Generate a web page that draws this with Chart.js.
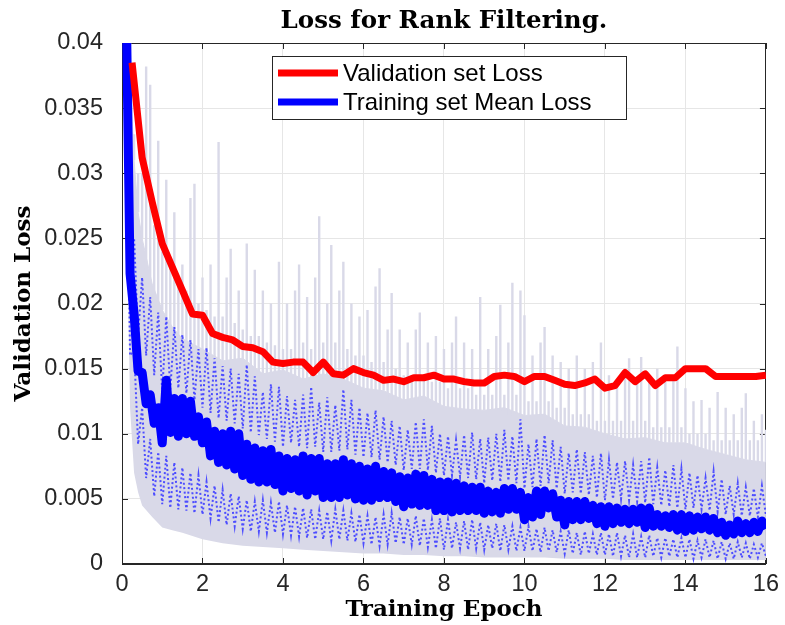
<!DOCTYPE html>
<html>
<head>
<meta charset="utf-8">
<script src="https://cdn.jsdelivr.net/npm/chart.js@4.4.1/dist/chart.umd.min.js"></script>
<style>
  html, body { margin: 0; padding: 0; background: #fff; }
  canvas { display: block; }
</style>
</head>
<body>
<canvas id="lossChart" width="785" height="625"></canvas>
<script>

// validation loss, every quarter epoch
const valEpochs = [
  0.25, 0.5, 0.75, 1, 1.25, 1.5, 1.75, 2, 2.25, 2.5, 2.75, 3, 3.25, 3.5, 3.75, 4,
  4.25, 4.5, 4.75, 5, 5.25, 5.5, 5.75, 6, 6.25, 6.5, 6.75, 7, 7.25, 7.5, 7.75, 8,
  8.25, 8.5, 8.75, 9, 9.25, 9.5, 9.75, 10, 10.25, 10.5, 10.75, 11, 11.25, 11.5, 11.75, 12,
  12.25, 12.5, 12.75, 13, 13.25, 13.5, 13.75, 14, 14.25, 14.5, 14.75, 15, 15.25, 15.5, 15.75, 16
];
const valLoss = [
  38.5, 31.2, 27.8, 24.6, 22.8, 21.0, 19.2, 19.1, 17.7, 17.4, 17.2, 16.7, 16.6, 16.3, 15.5, 15.4,
  15.5, 15.5, 14.7, 15.5, 14.6, 14.5, 15.0, 14.7, 14.5, 14.1, 14.2, 14.0, 14.3, 14.3, 14.5, 14.2,
  14.2, 14.0, 13.9, 13.9, 14.4, 14.5, 14.4, 14.0, 14.4, 14.4, 14.1, 13.8, 13.7, 13.9, 14.2, 13.5,
  13.7, 14.7, 14.0, 14.6, 13.7, 14.3, 14.3, 15.0, 15.0, 15.0, 14.4, 14.4, 14.4, 14.4, 14.4, 14.5
];

// training curves, one value per 0.1 epoch (0.1 ... 16.0), one row per epoch
const trainStep = 0.1;
const meanLoss = [
  44, 22.3, 19.2, 14.8, 14.7, 12.3, 13.0, 10.8, 12.0, 9.3,
  14.1, 10.1, 12.7, 9.8, 12.7, 10.0, 12.5, 9.8, 11.3, 9.3,
  10.9, 8.3, 10.2, 7.8, 10.0, 7.6, 10.2, 7.3, 10.0, 6.8,
  9.2, 6.5, 8.9, 6.3, 8.7, 6.3, 8.8, 6.1, 8.3, 5.6,
  8.1, 5.8, 8.0, 5.6, 8.3, 5.3, 8.1, 5.6, 8.1, 5.1,
  7.7, 5.1, 7.7, 5.1, 8.0, 5.3, 7.7, 5.0, 7.5, 4.9,
  7.3, 4.9, 7.5, 5.1, 7.1, 5.1, 7.0, 4.8, 6.7, 4.4,
  6.6, 4.6, 6.9, 4.5, 6.8, 4.5, 6.5, 4.1, 6.3, 4.1,
  6.3, 4.0, 6.2, 4.1, 6.0, 4.1, 5.9, 4.1, 5.9, 3.9,
  5.6, 4.0, 5.5, 3.9, 5.8, 4.2, 5.8, 4.2, 5.5, 3.4,
  5.1, 3.6, 5.6, 3.8, 5.6, 4.3, 5.4, 3.6, 4.9, 3.0,
  4.8, 3.4, 4.8, 3.4, 4.8, 3.5, 4.5, 3.1, 4.4, 2.9,
  4.4, 3.1, 4.3, 3.2, 4.2, 3.1, 4.2, 3.2, 4.3, 2.8,
  4.3, 2.9, 3.8, 2.9, 3.7, 2.8, 3.8, 2.6, 3.8, 2.5,
  3.7, 2.6, 3.6, 2.7, 3.6, 2.6, 3.5, 2.4, 3.2, 2.2,
  3.0, 2.3, 3.3, 2.4, 3.1, 2.4, 3.2, 2.5, 3.3, 2.7
];
const upperLoss = [
  40.5, 24, 25, 17.5, 22, 16, 20.5, 14.5, 19.3, 13.2,
  19, 13.4, 18.2, 13.5, 17.6, 13.1, 17.2, 12.6, 16.5, 12.0,
  16.6, 11.6, 15.8, 11.2, 15.2, 11.0, 15.0, 10.8, 14.6, 10.4,
  15.3, 10.1, 14.4, 9.9, 13.2, 9.6, 13.8, 9.4, 13.6, 9.0,
  12.9, 9.3, 12.6, 9.0, 13.0, 8.9, 13.6, 9.0, 12.4, 8.6,
  12.8, 8.6, 12.2, 8.7, 13.4, 8.8, 12.6, 8.4, 12.0, 8.2,
  11.6, 8.2, 11.8, 8.0, 11.3, 7.8, 11.0, 7.6, 10.6, 7.2,
  10.3, 7.3, 10.9, 7.3, 11.1, 7.2, 10.6, 7.0, 10.0, 6.8,
  9.8, 6.8, 9.5, 6.7, 9.9, 6.6, 10.1, 6.5, 9.6, 6.2,
  9.7, 6.4, 10.0, 6.3, 10.3, 6.4, 9.8, 6.2, 11.1, 5.8,
  9.2, 5.9, 9.6, 6.0, 9.9, 6.2, 9.5, 5.8, 9.0, 5.4,
  8.5, 5.5, 8.8, 5.4, 8.6, 5.3, 8.3, 5.1, 8.5, 4.9,
  8.0, 5.0, 7.8, 5.0, 7.9, 4.9, 7.6, 4.8, 7.9, 4.7,
  8.2, 4.6, 7.4, 4.5, 7.2, 4.4, 7.6, 4.3, 7.3, 4.2,
  7.0, 4.3, 6.8, 4.2, 6.6, 4.1, 7.1, 4.0, 6.5, 3.8,
  6.0, 3.8, 6.2, 3.7, 5.9, 3.7, 5.8, 3.6, 6.0, 3.7
];
const lowerLoss = [
  38, 16, 16.5, 9.2, 12, 6.6, 9.6, 5.2, 8.6, 4.6,
  8.3, 4.3, 7.8, 4.2, 7.4, 4.1, 7.0, 3.9, 6.8, 3.8,
  6.3, 3.5, 6.0, 3.2, 5.7, 3.0, 5.4, 2.9, 5.2, 2.7,
  4.9, 2.5, 4.8, 2.5, 4.9, 2.4, 4.7, 2.4, 4.8, 2.3,
  4.5, 2.2, 4.4, 2.1, 4.3, 2.0, 4.2, 1.9, 4.1, 1.9,
  4.0, 1.8, 4.2, 1.9, 4.1, 1.8, 3.9, 1.7, 3.8, 1.6,
  3.7, 1.5, 3.6, 1.4, 3.8, 1.5, 3.9, 1.6, 3.6, 1.5,
  3.5, 1.5, 3.7, 1.4, 3.5, 1.3, 3.4, 1.2, 3.5, 1.1,
  3.4, 1.2, 3.2, 1.2, 3.3, 1.1, 3.4, 1.2, 3.2, 1.1,
  3.0, 1.2, 3.1, 1.0, 3.0, 1.1, 2.9, 1.0, 2.8, 1.0,
  2.9, 1.0, 2.7, 0.9, 2.8, 1.0, 2.6, 0.9, 2.5, 0.8,
  2.6, 0.8, 2.4, 0.7, 2.5, 0.8, 2.3, 0.7, 2.4, 0.7,
  2.3, 0.6, 2.4, 0.6, 2.2, 0.5, 2.3, 0.5, 2.1, 0.5,
  2.2, 0.6, 2.0, 0.5, 2.0, 0.6, 1.9, 0.5, 2.0, 0.5,
  1.9, 0.4, 1.8, 0.5, 1.9, 0.5, 1.8, 0.4, 1.7, 0.4,
  1.6, 0.4, 1.7, 0.5, 1.6, 0.4, 1.5, 0.5, 1.6, 0.6
];
// raw per-batch loss: spike tops every 0.1 epoch
const rawPeaks = [
  45, 45, 33, 30, 30, 38.2, 36.8, 26, 32.5, 24,
  29.5, 23, 27, 22, 23, 21, 28.1, 29.2, 20, 22,
  19.5, 23, 19, 32.4, 19, 22, 24.2, 18.5, 21, 18,
  24.6, 17.5, 22.6, 17.5, 21, 17, 20, 16.8, 23.2, 16.5,
  20, 16.5, 21, 23.0, 17, 20.5, 16.5, 22, 26.7, 17,
  20, 24.5, 17, 21, 23.2, 16.5, 20, 16, 19, 16,
  19.5, 15.5, 21.3, 22.7, 15.5, 18, 20.8, 15, 18, 14.5,
  17, 14.5, 18, 19.3, 14.5, 17, 14, 17.5, 14, 16.5,
  13.5, 17, 19.0, 13.5, 17, 13.5, 16.5, 13, 20.5, 13,
  16.5, 13, 17.5, 19.9, 13, 17, 21.6, 13, 21.0, 19.1,
  12.5, 16, 12.5, 17, 18.2, 12.5, 16, 12, 15.5, 12,
  15, 11.5, 16, 11.5, 15, 11.5, 15.5, 11, 17.0, 11,
  14.5, 11, 14, 11, 15, 15.8, 11, 14, 15.9, 11,
  14.5, 10.5, 15, 10.5, 14, 10.5, 14.5, 16.7, 10.5, 13.5,
  10, 12.5, 10, 12.6, 10, 12, 9.5, 13.2, 9.5, 12,
  9.5, 11.5, 9.5, 12, 13.1, 9.5, 11, 9.5, 11.5, 10.3
];
// dense body of the raw loss: top and bottom edge
const rawEpochs = [
  0.1, 0.2, 0.3, 0.4, 0.5, 0.75, 1, 1.25, 1.5, 2, 2.5, 3, 3.5, 4, 4.5, 5, 5.5, 6, 6.5,
  7, 7.5, 8, 8.5, 9, 9.5, 10, 10.5, 11, 11.5, 12, 12.5, 13, 13.5, 14, 14.5, 15, 15.5, 16
];
const rawTop = [
  45, 38, 31, 27, 25, 21.5, 19.5, 18.2, 17.3, 16.5, 15.6, 15.8, 14.6, 14.9, 14.2, 14.6, 14.2, 13.5, 13.3,
  12.6, 12.9, 12.1, 11.9, 11.8, 12.0, 11.4, 11.5, 10.6, 10.5, 10.0, 9.6, 9.7, 9.3, 9.3, 8.8, 8.4, 8.0, 7.8
];
const rawBottom = [
  30, 12, 7, 5.5, 4.5, 3.6, 2.8, 2.6, 2.4, 1.9, 1.6, 1.4, 1.3, 1.2, 1.1, 1.0, 0.9, 0.8, 0.8,
  0.7, 0.7, 0.6, 0.6, 0.5, 0.5, 0.5, 0.5, 0.4, 0.4, 0.4, 0.3, 0.3, 0.3, 0.3, 0.3, 0.3, 0.3, 0.3
];

const trainEpochs = meanLoss.map((v, i) => +((i + 1) * trainStep).toFixed(1));
const pts = (xs, ys) => ys.map((v, i) => ({x: xs[i], y: v / 1000}));

// spikes start from the dense body so they don't hang below it
function bodyTopAt(e) {
  for (let j = 0; j < rawEpochs.length - 1; j++) {
    if (e <= rawEpochs[j + 1]) return Math.min(rawTop[j], rawTop[j + 1]);
  }
  return rawTop[rawTop.length - 1];
}
const spikePts = [];
rawPeaks.forEach((v, i) => {
  const e = trainEpochs[i];
  spikePts.push({x: e, y: bodyTopAt(e) / 1000}, {x: e, y: v / 1000}, {x: e, y: null});
});

const RAW = '#d9d9e8';
const SANS = '"Liberation Sans", Arial, sans-serif';
const SERIF = '"DejaVu Serif", serif';

const axesBox = {
  id: 'axesBox',
  beforeDatasetsDraw(chart) {
    const {ctx, chartArea: a, scales: {x, y}} = chart;
    ctx.save();
    ctx.strokeStyle = '#262626';
    ctx.lineWidth = 1;
    ctx.beginPath();
    x.ticks.forEach(t => {
      const px = Math.round(x.getPixelForValue(t.value)) + 0.5;
      ctx.moveTo(px, a.bottom); ctx.lineTo(px, a.bottom - 6);
      ctx.moveTo(px, a.top); ctx.lineTo(px, a.top + 6);
    });
    y.ticks.forEach(t => {
      const py = Math.round(y.getPixelForValue(t.value)) + 0.5;
      ctx.moveTo(a.left, py); ctx.lineTo(a.left + 6, py);
      ctx.moveTo(a.right, py); ctx.lineTo(a.right - 6, py);
    });
    ctx.stroke();
    ctx.strokeRect(Math.round(a.left) + 0.5, Math.round(a.top) + 0.5, Math.round(a.width) - 1, Math.round(a.height) - 1);
    ctx.restore();
  }
};

// title centred over the plot area, legend box inside it
const overlay = {
  id: 'overlay',
  afterDatasetsDraw(chart) {
    const {ctx, chartArea: a} = chart;
    ctx.save();
    ctx.fillStyle = '#000';
    ctx.font = 'bold 24.5px ' + SERIF;
    ctx.textAlign = 'center';
    ctx.textBaseline = 'alphabetic';
    ctx.fillText('Loss for Rank Filtering.', (a.left + a.right) / 2, 28);

    const x = Math.round(a.left) + 150, y = Math.round(a.top) + 13, w = 354, h = 63;
    ctx.textAlign = 'left';
    ctx.fillStyle = '#fff';
    ctx.fillRect(x, y, w, h);
    ctx.strokeStyle = '#262626';
    ctx.lineWidth = 1;
    ctx.strokeRect(x + 0.5, y + 0.5, w, h);
    chart.data.datasets.slice(0, 2).forEach((ds, i) => {
      const ly = y + 17 + i * 29;
      ctx.strokeStyle = ds.borderColor;
      ctx.lineWidth = 7;
      ctx.beginPath();
      ctx.moveTo(x + 6, ly);
      ctx.lineTo(x + 66, ly);
      ctx.stroke();
      ctx.fillStyle = '#000';
      ctx.font = '24px ' + SANS;
      ctx.textBaseline = 'middle';
      ctx.fillText(ds.label, x + 71, ly + 1);
    });
    ctx.restore();
  }
};

new Chart(document.getElementById('lossChart'), {
  type: 'line',
  data: {
    datasets: [
      {label: 'Validation set Loss', data: pts(valEpochs, valLoss), borderColor: '#ff0000', borderWidth: 7, borderJoinStyle: 'round'},
      {label: 'Training set Mean Loss', data: pts(trainEpochs, meanLoss), borderColor: '#0000ff', borderWidth: 9, borderJoinStyle: 'round'},
      {label: 'upper', data: pts(trainEpochs, upperLoss), borderColor: '#4d4dff', borderWidth: 2, borderDash: [2, 2.5]},
      {label: 'lower', data: pts(trainEpochs, lowerLoss), borderColor: '#4d4dff', borderWidth: 2, borderDash: [2, 2.5]},
      {label: 'spikes', data: spikePts, borderColor: RAW, borderWidth: 2.4, spanGaps: false},
      {label: 'body', data: pts(rawEpochs, rawTop), borderColor: RAW, borderWidth: 1, backgroundColor: RAW, fill: '+1'},
      {label: 'floor', data: pts(rawEpochs, rawBottom), borderWidth: 0, borderColor: RAW}
    ]
  },
  options: {
    responsive: false,
    animation: false,
    devicePixelRatio: 1,
    clip: 0,
    layout: {padding: {left: 0, right: 10, top: 43, bottom: 0}},
    elements: {point: {radius: 0}, line: {tension: 0}},
    plugins: {
      legend: {display: false},
      tooltip: {enabled: false},
      title: {display: false}
    },
    scales: {
      x: {
        type: 'linear', min: 0, max: 16,
        grid: {color: '#e6e6e6', drawTicks: false},
        border: {color: '#262626'},
        ticks: {stepSize: 2, padding: 6, color: '#262626', font: {family: SANS, size: 23.5}},
        title: {display: true, text: 'Training Epoch', color: '#000', font: {family: SERIF, size: 23, weight: 'bold'}, padding: {top: 0, bottom: 1}},
        afterFit: s => { s.height = 61; }
      },
      y: {
        min: 0, max: 0.04,
        grid: {color: '#e6e6e6', drawTicks: false},
        border: {color: '#262626'},
        ticks: {stepSize: 0.005, padding: 19, color: '#262626', font: {family: SANS, size: 23.5},
          callback: v => String(+v.toFixed(3))},
        title: {display: true, text: 'Validation Loss', color: '#000', font: {family: SERIF, size: 23, weight: 'bold'}, padding: {top: 10, bottom: 0}},
        afterFit: s => { s.width = 122; }
      }
    }
  },
  plugins: [axesBox, overlay]
});
</script>
</body>
</html>
